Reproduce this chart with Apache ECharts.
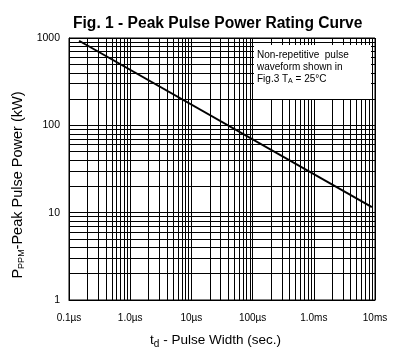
<!DOCTYPE html>
<html>
<head>
<meta charset="utf-8">
<script src="https://cdn.jsdelivr.net/npm/echarts@6/dist/echarts.min.js"></script>
<style>
  html, body { margin: 0; padding: 0; background: #fff; }
  #chart { width: 408px; height: 354px; }
</style>
</head>
<body>
<div id="chart"></div>
<script>
// pulse width in µs, power in kW
const pulseWidth = [0.146, 8900]
const peakPower = [930, 11.6]

const xTickValues = [0.1, 1, 10, 100, 1000, 10000]
const xTickLabels = ['0.1µs', '1.0µs', '10µs', '100µs', '1.0ms', '10ms']
const yTickValues = [1, 10, 100, 1000]
const yTickLabels = ['1', '10', '100', '1000']

// minor grid lines at 2..9 of every decade
const minorSteps = [2, 3, 4, 5, 6, 7, 8, 9]
const xDecades = [0.1, 1, 10, 100, 1000]
const yDecades = [1, 10, 100]

const xMinor = []
xDecades.forEach(d => minorSteps.forEach(k => xMinor.push(+(k * d).toPrecision(3))))
const yMinor = []
yDecades.forEach(d => minorSteps.forEach(k => yMinor.push(+(k * d).toPrecision(3))))

const font = 'Liberation Sans, Arial, sans-serif'

const chart = echarts.init(document.getElementById('chart'))
chart.setOption({
  animation: false,
  backgroundColor: '#fff',
  title: {
    text: 'Fig. 1 - Peak Pulse Power Rating Curve',
    left: 68,
    top: 11,
    textStyle: { fontFamily: font, fontSize: 15.6, fontWeight: 'bold', color: '#000' },
  },
  grid: {
    left: 69, right: 33, top: 38, bottom: 51,
    show: true, borderColor: '#000', borderWidth: 1,
  },
  xAxis: {
    type: 'log',
    logBase: 10,
    min: 0.1,
    max: 10000,
    axisLine: { lineStyle: { color: '#000', width: 1 } },
    axisTick: { show: false },
    splitLine: { show: true, lineStyle: { color: '#000', width: 1 } },
    axisLabel: {
      fontFamily: font, fontSize: 10, color: '#000', margin: 13,
      formatter: v => {
        const i = xTickValues.findIndex(t => Math.abs(t - v) / t < 1e-6)
        return i >= 0 ? xTickLabels[i] : ''
      },
    },
    name: '{t|t}{s|d}{t| - Pulse Width (sec.)}',
    nameLocation: 'middle',
    nameGap: 32,
    nameTextStyle: {
      padding: [0, 13, 0, 0],
      rich: {
        t: { fontFamily: font, fontSize: 13.5, color: '#000' },
        s: { fontFamily: font, fontSize: 10, color: '#000', verticalAlign: 'bottom', padding: [7, 0, 0, 0] },
      },
    },
  },
  yAxis: {
    type: 'log',
    logBase: 10,
    min: 1,
    max: 1000,
    axisLine: { show: true, lineStyle: { color: '#000', width: 1 } },
    axisTick: { show: false },
    splitLine: { show: true, lineStyle: { color: '#000', width: 1 } },
    axisLabel: {
      fontFamily: font, fontSize: 10.5, color: '#000', margin: 9,
      formatter: v => {
        const i = yTickValues.findIndex(t => Math.abs(t - v) / t < 1e-6)
        return i >= 0 ? yTickLabels[i] : ''
      },
    },
    name: '{t|P}{s|PPM}{t|-Peak Pulse Power (kW)}',
    nameLocation: 'middle',
    nameGap: 36,
    nameTextStyle: {
      padding: [0, 32, 0, 0],
      rich: {
        t: { fontFamily: font, fontSize: 14.5, color: '#000' },
        s: { fontFamily: font, fontSize: 9, color: '#000', verticalAlign: 'bottom', padding: [6, 0, 0, 0] },
      },
    },
  },
  graphic: [
    {
      type: 'rect',
      shape: { x: 254, y: 45, width: 117, height: 54 },
      style: { fill: '#fff' },
      z: 10,
    },
    {
      type: 'text',
      x: 257,
      y: 49,
      z: 11,
      style: {
        text: '{t|Non-repetitive  pulse}\n{t|waveform shown in}\n{t|Fig.3 T}{s|A}{t| = 25°C}',
        rich: {
          t: { fontFamily: font, fontSize: 10, color: '#000', lineHeight: 12 },
          s: { fontFamily: font, fontSize: 7, color: '#000', lineHeight: 12, verticalAlign: 'bottom', padding: [4, 0, 0, 0] },
        },
      },
    },
  ],
  series: [
    {
      type: 'line',
      data: pulseWidth.map((x, i) => [x, peakPower[i]]),
      symbol: 'none',
      lineStyle: { color: '#000', width: 2 },
      z: 5,
      markLine: {
        silent: true,
        symbol: 'none',
        label: { show: false },
        lineStyle: { color: '#000', width: 1, type: 'solid' },
        data: [
          ...xMinor.map(v => ({ xAxis: v })),
          ...yMinor.map(v => ({ yAxis: v })),
        ],
        z: 1,
      },
    },
  ],
})
</script>
</body>
</html>
